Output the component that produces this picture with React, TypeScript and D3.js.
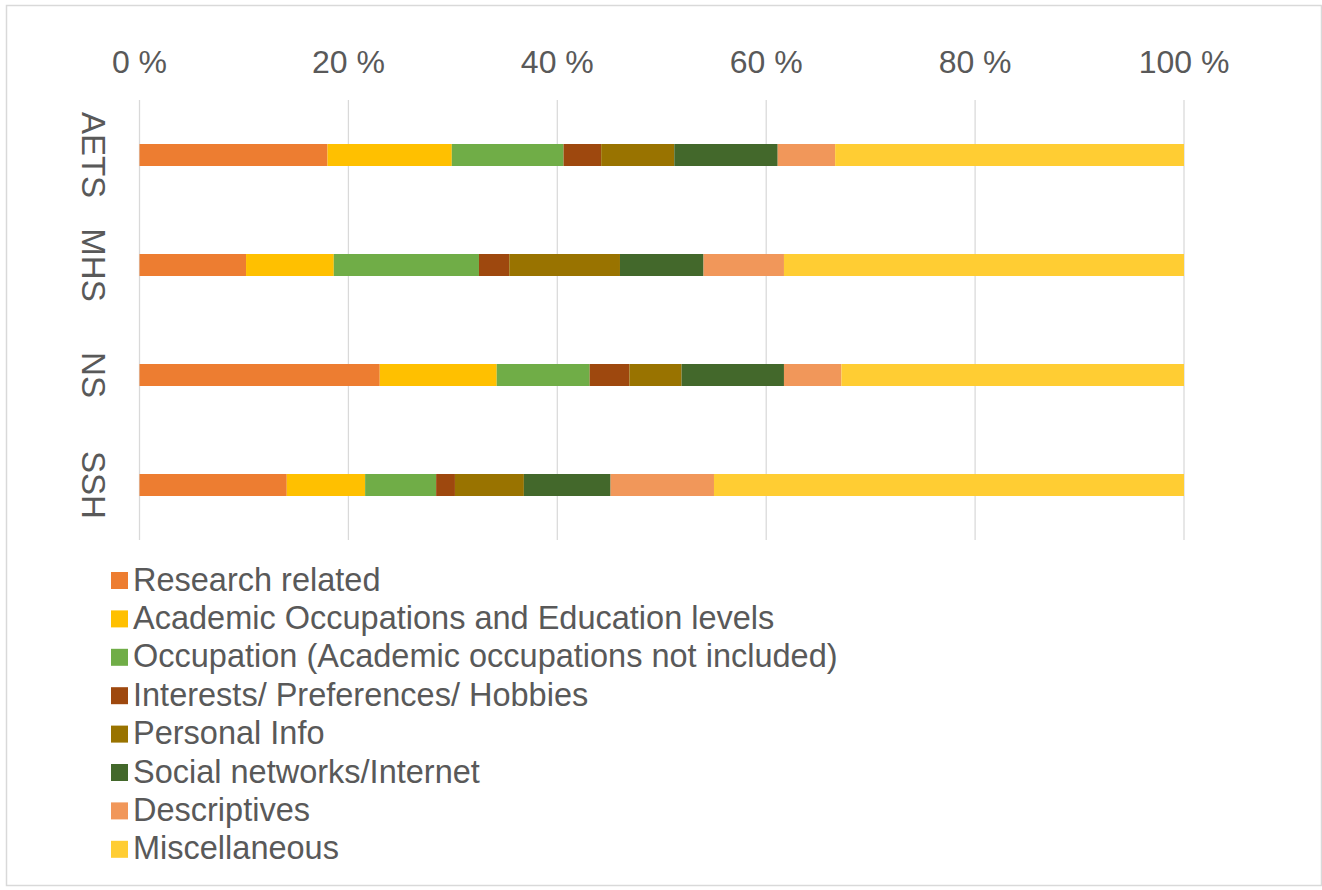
import React from "react";
import * as d3 from "d3";

const categories = ["AETS", "MHS", "NS", "SSH"];
const seriesNames = [
  "Research related",
  "Academic Occupations and Education levels",
  "Occupation (Academic occupations not included)",
  "Interests/ Preferences/ Hobbies",
  "Personal Info",
  "Social networks/Internet",
  "Descriptives",
  "Miscellaneous",
];
const seriesColors = ["#ED7D31", "#FFC000", "#70AD47", "#9E480E", "#997300", "#43682B", "#F1975A", "#FFCD33"];

const researchRelated = [18.0, 10.2, 23.0, 14.1];
const academicOccupations = [11.9, 8.4, 11.2, 7.5];
const occupation = [10.7, 13.9, 8.9, 6.8];
const interests = [3.6, 2.9, 3.8, 1.8];
const personalInfo = [7.0, 10.6, 5.0, 6.6];
const socialNetworks = [9.9, 8.0, 9.8, 8.3];
const descriptives = [5.5, 7.7, 5.5, 9.9];
const miscellaneous = [33.4, 38.3, 32.8, 45.0];

const seriesValues = [
  researchRelated,
  academicOccupations,
  occupation,
  interests,
  personalInfo,
  socialNetworks,
  descriptives,
  miscellaneous,
];

const tickValues = [0, 0.2, 0.4, 0.6, 0.8, 1];

const W = 1322;
const H = 890;
const FONT = "'Liberation Sans', Arial, sans-serif";
const TEXT = "#595959";

export default function App() {
  const rows = categories.map((c, i) => {
    const r: any = { cat: c };
    seriesNames.forEach((s, j) => (r[s] = seriesValues[j][i]));
    return r;
  });
  const stacked = d3.stack<any>().keys(seriesNames).offset(d3.stackOffsetExpand)(rows);

  const x = d3.scaleLinear().domain([0, 1]).range([139.5, 1184]);
  const y = d3.scaleBand().domain(categories).range([100, 540]).paddingInner(0.8).paddingOuter(0.4);
  const fmt = (v: number) => `${Math.round(v * 100)} %`;
  const rowH = 38.4;

  return (
    <svg width={W} height={H} style={{ position: "absolute", left: 0, top: 0 }} fontFamily={FONT}>
      <rect x={6.5} y={5.5} width={1315} height={880} fill="#fff" stroke="#D9D9D9" strokeWidth={1.5} />
      {tickValues.map((t) => (
        <g key={t}>
          <line x1={x(t)} x2={x(t)} y1={100} y2={540} stroke="#D9D9D9" strokeWidth={1.25} />
          <text x={x(t)} y={72.5} textAnchor="middle" fontSize={32} fill={TEXT}>
            {fmt(t)}
          </text>
        </g>
      ))}
      {stacked.map((s, j) => (
        <g key={s.key} fill={seriesColors[j]}>
          {s.map((d, i) => (
            <rect
              key={i}
              x={x(d[0])}
              y={y(categories[i])}
              width={x(d[1]) - x(d[0])}
              height={y.bandwidth()}
            />
          ))}
        </g>
      ))}
      {categories.map((c) => (
        <text
          key={c}
          transform={`translate(82, ${(y(c) as number) + y.bandwidth() / 2}) rotate(90)`}
          textAnchor="middle"
          fontSize={33}
          fill={TEXT}
        >
          {c}
        </text>
      ))}
      {seriesNames.map((s, j) => (
        <g key={s}>
          <rect x={111} y={572 + j * rowH} width={17} height={17} fill={seriesColors[j]} />
          <text x={133} y={590.5 + j * rowH} fontSize={32.5} fill={TEXT}>
            {s}
          </text>
        </g>
      ))}
    </svg>
  );
}
